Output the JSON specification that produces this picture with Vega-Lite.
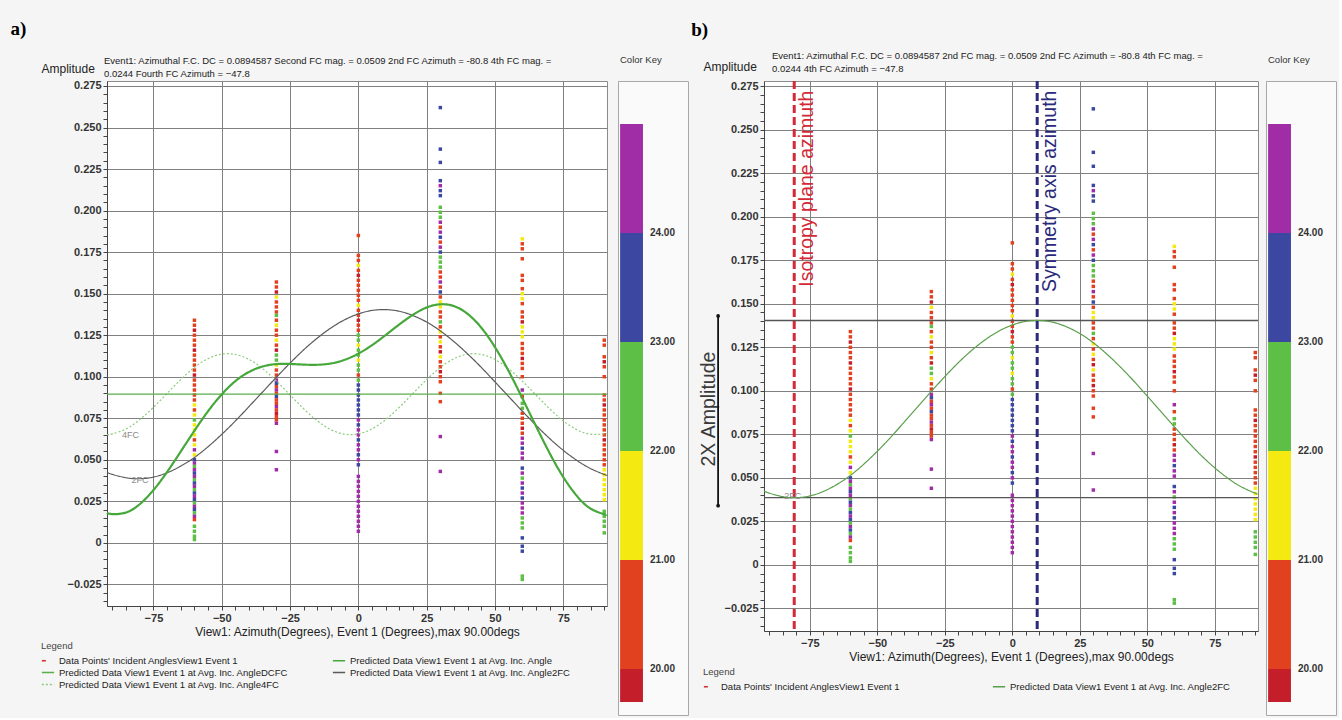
{
"$schema": "https://vega.github.io/schema/vega-lite/v6.json",
"background": "#f5f5f5",
"padding": {"left": 10, "top": 20, "right": 2, "bottom": 2},
"config": {
  "font": "Liberation Sans",
  "view": {"stroke": "#8c8c8c", "fill": "#ffffff"},
  "axis": {"gridColor": "#808080", "gridWidth": 1, "domainColor": "#444", "tickColor": "#444", "tickSize": 4, "tickCount": 100, "labelFont": "Liberation Sans", "labelFontWeight": "bold", "labelFontSize": 11, "labelColor": "#333", "titleFont": "Liberation Sans", "titleFontWeight": "normal", "titleFontSize": 12, "titleColor": "#222", "labelOverlap": false, "labelBound": false, "labelFlush": false},
  "legend": {"labelFont": "Liberation Sans", "labelFontSize": 9.5, "labelColor": "#222", "titleFont": "Liberation Sans", "titleFontSize": 9.5, "titleFontWeight": "normal", "titleColor": "#444", "symbolType": "stroke", "symbolSize": 150, "symbolStrokeWidth": 1.6, "rowPadding": 0, "labelLimit": 400, "titlePadding": 3, "direction": "horizontal"},
  "title": {"font": "Liberation Sans"}
},
"resolve": {"scale": {"stroke": "independent", "strokeDash": "independent", "color": "independent"}, "legend": {"stroke": "independent", "strokeDash": "independent"}},
"datasets": {
  "pts": [
{"x":-60,"a":0.134,"g":20.5},{"x":-60,"a":0.131,"g":20.5},{"x":-60,"a":0.128,"g":19.8},{"x":-60,"a":0.125,"g":20.5},{"x":-60,"a":0.122,"g":20.5},{"x":-60,"a":0.119,"g":20.5},{"x":-60,"a":0.116,"g":19.8},{"x":-60,"a":0.113,"g":20.5},{"x":-60,"a":0.110,"g":20.5},{"x":-60,"a":0.107,"g":20.5},{"x":-60,"a":0.104,"g":20.5},{"x":-60,"a":0.101,"g":19.8},{"x":-60,"a":0.098,"g":20.5},{"x":-60,"a":0.095,"g":20.5},{"x":-60,"a":0.092,"g":20.5},{"x":-60,"a":0.089,"g":20.5},{"x":-60,"a":0.086,"g":20.5},{"x":-60,"a":0.083,"g":21.5},{"x":-60,"a":0.080,"g":20.5},{"x":-60,"a":0.077,"g":21.5},{"x":-60,"a":0.074,"g":22.5},{"x":-60,"a":0.071,"g":21.5},{"x":-60,"a":0.068,"g":21.5},{"x":-60,"a":0.065,"g":21.5},{"x":-60,"a":0.062,"g":20.5},{"x":-60,"a":0.059,"g":21.5},{"x":-60,"a":0.056,"g":24.5},{"x":-60,"a":0.053,"g":21.5},{"x":-60,"a":0.050,"g":23.5},{"x":-60,"a":0.048,"g":24.5},{"x":-60,"a":0.046,"g":22.5},{"x":-60,"a":0.044,"g":24.5},{"x":-60,"a":0.042,"g":23.5},{"x":-60,"a":0.040,"g":24.5},{"x":-60,"a":0.038,"g":22.5},{"x":-60,"a":0.036,"g":23.5},{"x":-60,"a":0.034,"g":24.5},{"x":-60,"a":0.032,"g":22.5},{"x":-60,"a":0.030,"g":23.5},{"x":-60,"a":0.028,"g":24.5},{"x":-60,"a":0.026,"g":23.5},{"x":-60,"a":0.024,"g":22.5},{"x":-60,"a":0.022,"g":24.5},{"x":-60,"a":0.020,"g":23.5},{"x":-60,"a":0.018,"g":22.5},{"x":-60,"a":0.016,"g":24.5},{"x":-60,"a":0.014,"g":20.5},{"x":-60,"a":0.010,"g":22.5},{"x":-60,"a":0.007,"g":22.5},{"x":-60,"a":0.004,"g":22.5},{"x":-60,"a":0.002,"g":22.5},
{"x":-30,"a":0.157,"g":20.5},{"x":-30,"a":0.154,"g":20.5},{"x":-30,"a":0.151,"g":19.8},{"x":-30,"a":0.148,"g":21.5},{"x":-30,"a":0.145,"g":20.5},{"x":-30,"a":0.142,"g":20.5},{"x":-30,"a":0.139,"g":20.5},{"x":-30,"a":0.137,"g":22.5},{"x":-30,"a":0.134,"g":20.5},{"x":-30,"a":0.131,"g":21.5},{"x":-30,"a":0.128,"g":20.5},{"x":-30,"a":0.125,"g":20.5},{"x":-30,"a":0.122,"g":21.5},{"x":-30,"a":0.119,"g":20.5},{"x":-30,"a":0.116,"g":19.8},{"x":-30,"a":0.113,"g":22.5},{"x":-30,"a":0.110,"g":22.5},{"x":-30,"a":0.107,"g":21.5},{"x":-30,"a":0.104,"g":20.5},{"x":-30,"a":0.101,"g":20.5},{"x":-30,"a":0.098,"g":24.5},{"x":-30,"a":0.096,"g":23.5},{"x":-30,"a":0.094,"g":20.5},{"x":-30,"a":0.092,"g":24.5},{"x":-30,"a":0.090,"g":20.5},{"x":-30,"a":0.088,"g":23.5},{"x":-30,"a":0.086,"g":20.5},{"x":-30,"a":0.084,"g":20.5},{"x":-30,"a":0.082,"g":24.5},{"x":-30,"a":0.080,"g":20.5},{"x":-30,"a":0.078,"g":19.8},{"x":-30,"a":0.076,"g":20.5},{"x":-30,"a":0.074,"g":20.5},{"x":-30,"a":0.072,"g":24.5},{"x":-30,"a":0.055,"g":24.5},{"x":-30,"a":0.044,"g":24.5},
{"x":0,"a":0.185,"g":20.5},{"x":0,"a":0.173,"g":20.5},{"x":0,"a":0.170,"g":20.5},{"x":0,"a":0.167,"g":21.5},{"x":0,"a":0.164,"g":20.5},{"x":0,"a":0.161,"g":19.8},{"x":0,"a":0.158,"g":20.5},{"x":0,"a":0.155,"g":20.5},{"x":0,"a":0.152,"g":20.5},{"x":0,"a":0.149,"g":20.5},{"x":0,"a":0.146,"g":20.5},{"x":0,"a":0.143,"g":21.5},{"x":0,"a":0.140,"g":20.5},{"x":0,"a":0.137,"g":20.5},{"x":0,"a":0.134,"g":19.8},{"x":0,"a":0.131,"g":20.5},{"x":0,"a":0.128,"g":20.5},{"x":0,"a":0.125,"g":22.5},{"x":0,"a":0.122,"g":22.5},{"x":0,"a":0.119,"g":21.5},{"x":0,"a":0.116,"g":22.5},{"x":0,"a":0.113,"g":22.5},{"x":0,"a":0.110,"g":21.5},{"x":0,"a":0.107,"g":22.5},{"x":0,"a":0.104,"g":22.5},{"x":0,"a":0.101,"g":20.5},{"x":0,"a":0.098,"g":22.5},{"x":0,"a":0.095,"g":23.5},{"x":0,"a":0.092,"g":23.5},{"x":0,"a":0.089,"g":23.5},{"x":0,"a":0.086,"g":23.5},{"x":0,"a":0.083,"g":23.5},{"x":0,"a":0.080,"g":23.5},{"x":0,"a":0.077,"g":23.5},{"x":0,"a":0.074,"g":24.5},{"x":0,"a":0.071,"g":23.5},{"x":0,"a":0.068,"g":24.5},{"x":0,"a":0.065,"g":24.5},{"x":0,"a":0.062,"g":23.5},{"x":0,"a":0.059,"g":24.5},{"x":0,"a":0.056,"g":24.5},{"x":0,"a":0.053,"g":23.5},{"x":0,"a":0.050,"g":24.5},{"x":0,"a":0.047,"g":23.5},{"x":0,"a":0.040,"g":24.5},{"x":0,"a":0.037,"g":24.5},{"x":0,"a":0.034,"g":24.5},{"x":0,"a":0.031,"g":24.5},{"x":0,"a":0.028,"g":24.5},{"x":0,"a":0.025,"g":24.5},{"x":0,"a":0.022,"g":24.5},{"x":0,"a":0.019,"g":24.5},{"x":0,"a":0.016,"g":24.5},{"x":0,"a":0.013,"g":24.5},{"x":0,"a":0.010,"g":24.5},{"x":0,"a":0.007,"g":24.5},
{"x":30,"a":0.262,"g":23.5},{"x":30,"a":0.237,"g":23.5},{"x":30,"a":0.229,"g":23.5},{"x":30,"a":0.218,"g":23.5},{"x":30,"a":0.215,"g":24.5},{"x":30,"a":0.212,"g":23.5},{"x":30,"a":0.209,"g":23.5},{"x":30,"a":0.202,"g":22.5},{"x":30,"a":0.199,"g":22.5},{"x":30,"a":0.196,"g":22.5},{"x":30,"a":0.193,"g":24.5},{"x":30,"a":0.190,"g":20.5},{"x":30,"a":0.187,"g":24.5},{"x":30,"a":0.184,"g":23.5},{"x":30,"a":0.181,"g":20.5},{"x":30,"a":0.178,"g":24.5},{"x":30,"a":0.175,"g":23.5},{"x":30,"a":0.172,"g":22.5},{"x":30,"a":0.169,"g":22.5},{"x":30,"a":0.166,"g":22.5},{"x":30,"a":0.163,"g":20.5},{"x":30,"a":0.160,"g":20.5},{"x":30,"a":0.157,"g":24.5},{"x":30,"a":0.154,"g":20.5},{"x":30,"a":0.151,"g":23.5},{"x":30,"a":0.148,"g":20.5},{"x":30,"a":0.145,"g":21.5},{"x":30,"a":0.142,"g":21.5},{"x":30,"a":0.139,"g":20.5},{"x":30,"a":0.136,"g":20.5},{"x":30,"a":0.133,"g":22.5},{"x":30,"a":0.130,"g":20.5},{"x":30,"a":0.127,"g":21.5},{"x":30,"a":0.124,"g":20.5},{"x":30,"a":0.121,"g":21.5},{"x":30,"a":0.118,"g":20.5},{"x":30,"a":0.115,"g":19.8},{"x":30,"a":0.112,"g":21.5},{"x":30,"a":0.109,"g":20.5},{"x":30,"a":0.106,"g":20.5},{"x":30,"a":0.103,"g":19.8},{"x":30,"a":0.100,"g":20.5},{"x":30,"a":0.097,"g":20.5},{"x":30,"a":0.090,"g":20.5},{"x":30,"a":0.085,"g":20.5},{"x":30,"a":0.064,"g":24.5},{"x":30,"a":0.043,"g":24.5},
{"x":60,"a":0.183,"g":21.5},{"x":60,"a":0.180,"g":20.5},{"x":60,"a":0.177,"g":20.5},{"x":60,"a":0.171,"g":20.5},{"x":60,"a":0.161,"g":20.5},{"x":60,"a":0.158,"g":20.5},{"x":60,"a":0.153,"g":20.5},{"x":60,"a":0.150,"g":21.5},{"x":60,"a":0.147,"g":21.5},{"x":60,"a":0.144,"g":20.5},{"x":60,"a":0.139,"g":20.5},{"x":60,"a":0.136,"g":20.5},{"x":60,"a":0.133,"g":19.8},{"x":60,"a":0.130,"g":21.5},{"x":60,"a":0.127,"g":21.5},{"x":60,"a":0.124,"g":21.5},{"x":60,"a":0.120,"g":20.5},{"x":60,"a":0.117,"g":20.5},{"x":60,"a":0.114,"g":20.5},{"x":60,"a":0.111,"g":19.8},{"x":60,"a":0.108,"g":20.5},{"x":60,"a":0.105,"g":20.5},{"x":60,"a":0.100,"g":20.5},{"x":60,"a":0.092,"g":24.5},{"x":60,"a":0.088,"g":20.5},{"x":60,"a":0.084,"g":22.5},{"x":60,"a":0.081,"g":22.5},{"x":60,"a":0.078,"g":20.5},{"x":60,"a":0.075,"g":20.5},{"x":60,"a":0.072,"g":20.5},{"x":60,"a":0.069,"g":19.8},{"x":60,"a":0.066,"g":20.5},{"x":60,"a":0.063,"g":24.5},{"x":60,"a":0.060,"g":24.5},{"x":60,"a":0.057,"g":23.5},{"x":60,"a":0.054,"g":24.5},{"x":60,"a":0.051,"g":24.5},{"x":60,"a":0.045,"g":23.5},{"x":60,"a":0.042,"g":24.5},{"x":60,"a":0.039,"g":22.5},{"x":60,"a":0.036,"g":24.5},{"x":60,"a":0.033,"g":23.5},{"x":60,"a":0.030,"g":24.5},{"x":60,"a":0.027,"g":23.5},{"x":60,"a":0.024,"g":24.5},{"x":60,"a":0.021,"g":24.5},{"x":60,"a":0.018,"g":24.5},{"x":60,"a":0.015,"g":22.5},{"x":60,"a":0.012,"g":22.5},{"x":60,"a":0.009,"g":22.5},{"x":60,"a":0.003,"g":23.5},{"x":60,"a":-0.002,"g":23.5},{"x":60,"a":-0.005,"g":23.5},{"x":60,"a":-0.020,"g":22.5},{"x":60,"a":-0.022,"g":22.5},
{"x":90,"a":0.122,"g":20.5},{"x":90,"a":0.119,"g":20.5},{"x":90,"a":0.112,"g":20.5},{"x":90,"a":0.109,"g":19.8},{"x":90,"a":0.106,"g":20.5},{"x":90,"a":0.100,"g":20.5},{"x":90,"a":0.089,"g":20.5},{"x":90,"a":0.086,"g":20.5},{"x":90,"a":0.083,"g":19.8},{"x":90,"a":0.080,"g":20.5},{"x":90,"a":0.077,"g":20.5},{"x":90,"a":0.074,"g":20.5},{"x":90,"a":0.071,"g":20.5},{"x":90,"a":0.068,"g":20.5},{"x":90,"a":0.065,"g":20.5},{"x":90,"a":0.062,"g":19.8},{"x":90,"a":0.059,"g":20.5},{"x":90,"a":0.056,"g":20.5},{"x":90,"a":0.053,"g":20.5},{"x":90,"a":0.050,"g":20.5},{"x":90,"a":0.047,"g":20.5},{"x":90,"a":0.044,"g":21.5},{"x":90,"a":0.041,"g":21.5},{"x":90,"a":0.038,"g":21.5},{"x":90,"a":0.035,"g":21.5},{"x":90,"a":0.032,"g":21.5},{"x":90,"a":0.029,"g":21.5},{"x":90,"a":0.026,"g":21.5},{"x":90,"a":0.019,"g":22.5},{"x":90,"a":0.016,"g":22.5},{"x":90,"a":0.013,"g":22.5},{"x":90,"a":0.010,"g":22.5},{"x":90,"a":0.006,"g":22.5}
  ],
  "full": [
{"x":-92,"a":0.0181,"s":"Predicted Data View1 Event 1 at Avg. Inc. Angle"},{"x":-90,"a":0.0173,"s":"Predicted Data View1 Event 1 at Avg. Inc. Angle"},{"x":-85,"a":0.0183,"s":"Predicted Data View1 Event 1 at Avg. Inc. Angle"},{"x":-80,"a":0.0233,"s":"Predicted Data View1 Event 1 at Avg. Inc. Angle"},{"x":-75,"a":0.0318,"s":"Predicted Data View1 Event 1 at Avg. Inc. Angle"},{"x":-70,"a":0.0427,"s":"Predicted Data View1 Event 1 at Avg. Inc. Angle"},{"x":-65,"a":0.0550,"s":"Predicted Data View1 Event 1 at Avg. Inc. Angle"},{"x":-60,"a":0.0675,"s":"Predicted Data View1 Event 1 at Avg. Inc. Angle"},{"x":-55,"a":0.0793,"s":"Predicted Data View1 Event 1 at Avg. Inc. Angle"},{"x":-50,"a":0.0894,"s":"Predicted Data View1 Event 1 at Avg. Inc. Angle"},{"x":-45,"a":0.0974,"s":"Predicted Data View1 Event 1 at Avg. Inc. Angle"},{"x":-40,"a":0.1029,"s":"Predicted Data View1 Event 1 at Avg. Inc. Angle"},{"x":-35,"a":0.1062,"s":"Predicted Data View1 Event 1 at Avg. Inc. Angle"},{"x":-30,"a":0.1076,"s":"Predicted Data View1 Event 1 at Avg. Inc. Angle"},{"x":-25,"a":0.1077,"s":"Predicted Data View1 Event 1 at Avg. Inc. Angle"},{"x":-20,"a":0.1073,"s":"Predicted Data View1 Event 1 at Avg. Inc. Angle"},{"x":-15,"a":0.1072,"s":"Predicted Data View1 Event 1 at Avg. Inc. Angle"},{"x":-10,"a":0.1080,"s":"Predicted Data View1 Event 1 at Avg. Inc. Angle"},{"x":-5,"a":0.1102,"s":"Predicted Data View1 Event 1 at Avg. Inc. Angle"},{"x":0,"a":0.1139,"s":"Predicted Data View1 Event 1 at Avg. Inc. Angle"},{"x":5,"a":0.1190,"s":"Predicted Data View1 Event 1 at Avg. Inc. Angle"},{"x":10,"a":0.1251,"s":"Predicted Data View1 Event 1 at Avg. Inc. Angle"},{"x":15,"a":0.1315,"s":"Predicted Data View1 Event 1 at Avg. Inc. Angle"},{"x":20,"a":0.1373,"s":"Predicted Data View1 Event 1 at Avg. Inc. Angle"},{"x":25,"a":0.1417,"s":"Predicted Data View1 Event 1 at Avg. Inc. Angle"},{"x":30,"a":0.1436,"s":"Predicted Data View1 Event 1 at Avg. Inc. Angle"},{"x":35,"a":0.1425,"s":"Predicted Data View1 Event 1 at Avg. Inc. Angle"},{"x":40,"a":0.1378,"s":"Predicted Data View1 Event 1 at Avg. Inc. Angle"},{"x":45,"a":0.1295,"s":"Predicted Data View1 Event 1 at Avg. Inc. Angle"},{"x":50,"a":0.1178,"s":"Predicted Data View1 Event 1 at Avg. Inc. Angle"},{"x":55,"a":0.1034,"s":"Predicted Data View1 Event 1 at Avg. Inc. Angle"},{"x":60,"a":0.0871,"s":"Predicted Data View1 Event 1 at Avg. Inc. Angle"},{"x":65,"a":0.0703,"s":"Predicted Data View1 Event 1 at Avg. Inc. Angle"},{"x":70,"a":0.0540,"s":"Predicted Data View1 Event 1 at Avg. Inc. Angle"},{"x":75,"a":0.0396,"s":"Predicted Data View1 Event 1 at Avg. Inc. Angle"},{"x":80,"a":0.0282,"s":"Predicted Data View1 Event 1 at Avg. Inc. Angle"},{"x":85,"a":0.0206,"s":"Predicted Data View1 Event 1 at Avg. Inc. Angle"},{"x":90,"a":0.0173,"s":"Predicted Data View1 Event 1 at Avg. Inc. Angle"},{"x":91,"a":0.0171,"s":"Predicted Data View1 Event 1 at Avg. Inc. Angle"}
  ],
  "dc": [
{"x":-92,"a":0.0895,"s":"Predicted Data View1 Event 1 at Avg. Inc. AngleDCFC"},{"x":91,"a":0.0895,"s":"Predicted Data View1 Event 1 at Avg. Inc. AngleDCFC"}
  ],
  "f2": [
{"x":-92,"a":0.0424,"s":"Predicted Data View1 Event 1 at Avg. Inc. Angle2FC"},{"x":-90,"a":0.0412,"s":"Predicted Data View1 Event 1 at Avg. Inc. Angle2FC"},{"x":-85,"a":0.0392,"s":"Predicted Data View1 Event 1 at Avg. Inc. Angle2FC"},{"x":-80,"a":0.0386,"s":"Predicted Data View1 Event 1 at Avg. Inc. Angle2FC"},{"x":-75,"a":0.0396,"s":"Predicted Data View1 Event 1 at Avg. Inc. Angle2FC"},{"x":-70,"a":0.0422,"s":"Predicted Data View1 Event 1 at Avg. Inc. Angle2FC"},{"x":-65,"a":0.0462,"s":"Predicted Data View1 Event 1 at Avg. Inc. Angle2FC"},{"x":-60,"a":0.0514,"s":"Predicted Data View1 Event 1 at Avg. Inc. Angle2FC"},{"x":-55,"a":0.0579,"s":"Predicted Data View1 Event 1 at Avg. Inc. Angle2FC"},{"x":-50,"a":0.0653,"s":"Predicted Data View1 Event 1 at Avg. Inc. Angle2FC"},{"x":-45,"a":0.0734,"s":"Predicted Data View1 Event 1 at Avg. Inc. Angle2FC"},{"x":-40,"a":0.0821,"s":"Predicted Data View1 Event 1 at Avg. Inc. Angle2FC"},{"x":-35,"a":0.0909,"s":"Predicted Data View1 Event 1 at Avg. Inc. Angle2FC"},{"x":-30,"a":0.0997,"s":"Predicted Data View1 Event 1 at Avg. Inc. Angle2FC"},{"x":-25,"a":0.1082,"s":"Predicted Data View1 Event 1 at Avg. Inc. Angle2FC"},{"x":-20,"a":0.1162,"s":"Predicted Data View1 Event 1 at Avg. Inc. Angle2FC"},{"x":-15,"a":0.1233,"s":"Predicted Data View1 Event 1 at Avg. Inc. Angle2FC"},{"x":-10,"a":0.1294,"s":"Predicted Data View1 Event 1 at Avg. Inc. Angle2FC"},{"x":-5,"a":0.1343,"s":"Predicted Data View1 Event 1 at Avg. Inc. Angle2FC"},{"x":0,"a":0.1378,"s":"Predicted Data View1 Event 1 at Avg. Inc. Angle2FC"},{"x":5,"a":0.1399,"s":"Predicted Data View1 Event 1 at Avg. Inc. Angle2FC"},{"x":10,"a":0.1404,"s":"Predicted Data View1 Event 1 at Avg. Inc. Angle2FC"},{"x":15,"a":0.1394,"s":"Predicted Data View1 Event 1 at Avg. Inc. Angle2FC"},{"x":20,"a":0.1368,"s":"Predicted Data View1 Event 1 at Avg. Inc. Angle2FC"},{"x":25,"a":0.1329,"s":"Predicted Data View1 Event 1 at Avg. Inc. Angle2FC"},{"x":30,"a":0.1276,"s":"Predicted Data View1 Event 1 at Avg. Inc. Angle2FC"},{"x":35,"a":0.1211,"s":"Predicted Data View1 Event 1 at Avg. Inc. Angle2FC"},{"x":40,"a":0.1137,"s":"Predicted Data View1 Event 1 at Avg. Inc. Angle2FC"},{"x":45,"a":0.1056,"s":"Predicted Data View1 Event 1 at Avg. Inc. Angle2FC"},{"x":50,"a":0.0969,"s":"Predicted Data View1 Event 1 at Avg. Inc. Angle2FC"},{"x":55,"a":0.0881,"s":"Predicted Data View1 Event 1 at Avg. Inc. Angle2FC"},{"x":60,"a":0.0793,"s":"Predicted Data View1 Event 1 at Avg. Inc. Angle2FC"},{"x":65,"a":0.0708,"s":"Predicted Data View1 Event 1 at Avg. Inc. Angle2FC"},{"x":70,"a":0.0628,"s":"Predicted Data View1 Event 1 at Avg. Inc. Angle2FC"},{"x":75,"a":0.0557,"s":"Predicted Data View1 Event 1 at Avg. Inc. Angle2FC"},{"x":80,"a":0.0496,"s":"Predicted Data View1 Event 1 at Avg. Inc. Angle2FC"},{"x":85,"a":0.0447,"s":"Predicted Data View1 Event 1 at Avg. Inc. Angle2FC"},{"x":90,"a":0.0412,"s":"Predicted Data View1 Event 1 at Avg. Inc. Angle2FC"},{"x":91,"a":0.0407,"s":"Predicted Data View1 Event 1 at Avg. Inc. Angle2FC"}
  ],
  "f4": [
{"x":-92,"a":0.0651,"s":"Predicted Data View1 Event 1 at Avg. Inc. Angle4FC"},{"x":-90,"a":0.0656,"s":"Predicted Data View1 Event 1 at Avg. Inc. Angle4FC"},{"x":-85,"a":0.0686,"s":"Predicted Data View1 Event 1 at Avg. Inc. Angle4FC"},{"x":-80,"a":0.0742,"s":"Predicted Data View1 Event 1 at Avg. Inc. Angle4FC"},{"x":-75,"a":0.0816,"s":"Predicted Data View1 Event 1 at Avg. Inc. Angle4FC"},{"x":-70,"a":0.0900,"s":"Predicted Data View1 Event 1 at Avg. Inc. Angle4FC"},{"x":-65,"a":0.0983,"s":"Predicted Data View1 Event 1 at Avg. Inc. Angle4FC"},{"x":-60,"a":0.1056,"s":"Predicted Data View1 Event 1 at Avg. Inc. Angle4FC"},{"x":-55,"a":0.1109,"s":"Predicted Data View1 Event 1 at Avg. Inc. Angle4FC"},{"x":-50,"a":0.1136,"s":"Predicted Data View1 Event 1 at Avg. Inc. Angle4FC"},{"x":-45,"a":0.1134,"s":"Predicted Data View1 Event 1 at Avg. Inc. Angle4FC"},{"x":-40,"a":0.1104,"s":"Predicted Data View1 Event 1 at Avg. Inc. Angle4FC"},{"x":-35,"a":0.1048,"s":"Predicted Data View1 Event 1 at Avg. Inc. Angle4FC"},{"x":-30,"a":0.0974,"s":"Predicted Data View1 Event 1 at Avg. Inc. Angle4FC"},{"x":-25,"a":0.0890,"s":"Predicted Data View1 Event 1 at Avg. Inc. Angle4FC"},{"x":-20,"a":0.0807,"s":"Predicted Data View1 Event 1 at Avg. Inc. Angle4FC"},{"x":-15,"a":0.0734,"s":"Predicted Data View1 Event 1 at Avg. Inc. Angle4FC"},{"x":-10,"a":0.0681,"s":"Predicted Data View1 Event 1 at Avg. Inc. Angle4FC"},{"x":-5,"a":0.0654,"s":"Predicted Data View1 Event 1 at Avg. Inc. Angle4FC"},{"x":0,"a":0.0656,"s":"Predicted Data View1 Event 1 at Avg. Inc. Angle4FC"},{"x":5,"a":0.0686,"s":"Predicted Data View1 Event 1 at Avg. Inc. Angle4FC"},{"x":10,"a":0.0742,"s":"Predicted Data View1 Event 1 at Avg. Inc. Angle4FC"},{"x":15,"a":0.0816,"s":"Predicted Data View1 Event 1 at Avg. Inc. Angle4FC"},{"x":20,"a":0.0900,"s":"Predicted Data View1 Event 1 at Avg. Inc. Angle4FC"},{"x":25,"a":0.0983,"s":"Predicted Data View1 Event 1 at Avg. Inc. Angle4FC"},{"x":30,"a":0.1056,"s":"Predicted Data View1 Event 1 at Avg. Inc. Angle4FC"},{"x":35,"a":0.1109,"s":"Predicted Data View1 Event 1 at Avg. Inc. Angle4FC"},{"x":40,"a":0.1136,"s":"Predicted Data View1 Event 1 at Avg. Inc. Angle4FC"},{"x":45,"a":0.1134,"s":"Predicted Data View1 Event 1 at Avg. Inc. Angle4FC"},{"x":50,"a":0.1104,"s":"Predicted Data View1 Event 1 at Avg. Inc. Angle4FC"},{"x":55,"a":0.1048,"s":"Predicted Data View1 Event 1 at Avg. Inc. Angle4FC"},{"x":60,"a":0.0974,"s":"Predicted Data View1 Event 1 at Avg. Inc. Angle4FC"},{"x":65,"a":0.0890,"s":"Predicted Data View1 Event 1 at Avg. Inc. Angle4FC"},{"x":70,"a":0.0807,"s":"Predicted Data View1 Event 1 at Avg. Inc. Angle4FC"},{"x":75,"a":0.0734,"s":"Predicted Data View1 Event 1 at Avg. Inc. Angle4FC"},{"x":80,"a":0.0681,"s":"Predicted Data View1 Event 1 at Avg. Inc. Angle4FC"},{"x":85,"a":0.0654,"s":"Predicted Data View1 Event 1 at Avg. Inc. Angle4FC"},{"x":90,"a":0.0656,"s":"Predicted Data View1 Event 1 at Avg. Inc. Angle4FC"},{"x":91,"a":0.0660,"s":"Predicted Data View1 Event 1 at Avg. Inc. Angle4FC"}
  ],
  "key": [{"lo":19.697,"hi":20,"g":19.8},{"lo":20,"hi":21,"g":20.5},{"lo":21,"hi":22,"g":21.5},{"lo":22,"hi":23,"g":22.5},{"lo":23,"hi":24,"g":23.5},{"lo":24,"hi":25,"g":24.5}],
  "keylab": [{"v":20},{"v":21},{"v":22},{"v":23},{"v":24}],
  "labA": [{"t":"4FC","x":-86.5,"a":0.065},{"t":"2FC","x":-83,"a":0.038}],
  "labB": [{"t":"2FC","x":-84.5,"a":0.0397}],
  "azl": [{"t":"Isotropy plane azimuth","az":-80.8},{"t":"Symmetry axis azimuth","az":9.2}],
  "hl": [{"a":0.1404},{"a":0.0386}]
},
"spacing": 2,
"hconcat": [
 {
  "title": {"text": "a)", "font": "Liberation Serif", "fontSize": 19, "fontWeight": "bold", "color": "#000", "anchor": "start", "frame": "bounds", "dx": -30, "offset": 15},
  "spacing": 5,
  "hconcat": [
   {
    "width": 500, "height": 525,
    "title": {"text": ["Event1: Azimuthal F.C. DC = 0.0894587 Second FC mag. = 0.0509 2nd FC Azimuth = -80.8 4th FC mag. =", "0.0244 Fourth FC Azimuth = −47.8"], "anchor": "start", "frame": "group", "fontSize": 9.5, "fontWeight": "normal", "color": "#222", "offset": -16, "dx": -3, "lineHeight": 13},
    "layer": [
     {"data": {"name": "pts"}, "mark": {"type": "square", "size": 12, "opacity": 1},
      "encoding": {
       "x": {"field": "x", "type": "quantitative", "scale": {"domain": [-92, 91], "nice": false, "zero": false},
             "axis": {"values": [-90,-85,-80,-75,-70,-65,-60,-55,-50,-45,-40,-35,-30,-25,-20,-15,-10,-5,0,5,10,15,20,25,30,35,40,45,50,55,60,65,70,75,80,85,90],
                      "tickCount": 100,
                      "title": "View1: Azimuth(Degrees), Event 1 (Degrees),max 90.00degs",
                      "labelExpr": "datum.value % 25 === 0 ? format(datum.value, 'd') : ''",
                      "gridOpacity": {"condition": {"test": "datum.value % 25 === 0", "value": 1}, "value": 0},
                      "labelPadding": 2, "titlePadding": 3}},
       "y": {"field": "a", "type": "quantitative", "scale": {"domain": [-0.038, 0.278], "nice": false, "zero": false},
             "axis": {"values": [-0.035,-0.03,-0.025,-0.02,-0.015,-0.01,-0.005,0,0.005,0.01,0.015,0.02,0.025,0.03,0.035,0.04,0.045,0.05,0.055,0.06,0.065,0.07,0.075,0.08,0.085,0.09,0.095,0.1,0.105,0.11,0.115,0.12,0.125,0.13,0.135,0.14,0.145,0.15,0.155,0.16,0.165,0.17,0.175,0.18,0.185,0.19,0.195,0.2,0.205,0.21,0.215,0.22,0.225,0.23,0.235,0.24,0.245,0.25,0.255,0.26,0.265,0.27,0.275],
                      "tickCount": 100,
                      "title": "Amplitude", "titleAngle": 0, "titleAlign": "left", "titleBaseline": "middle", "titleX": -66, "titleY": -13,
                      "labelExpr": "abs(round(datum.value*1000)) % 25 === 0 ? (datum.value === 0 ? '0' : format(datum.value, '.3f')) : ''",
                      "gridOpacity": {"condition": {"test": "abs(round(datum.value*1000)) % 25 === 0", "value": 1}, "value": 0},
                      "labelPadding": 2}},
       "fill": {"field": "g", "type": "quantitative", "scale": {"type": "threshold", "domain": [20,21,22,23,24], "range": ["#c41e2a","#e2411f","#f4ea12","#5dbf45","#3b47a0","#a02ca6"]}, "legend": null}
      }},
     {"data": {"name": "f4"}, "mark": {"type": "line", "strokeWidth": 1.2, "interpolate": "natural"},
      "encoding": {"x": {"field": "x", "type": "quantitative"}, "y": {"field": "a", "type": "quantitative"},
       "stroke": {"field": "s", "type": "nominal", "scale": {"domain": ["Data Points' Incident AnglesView1 Event 1", "Predicted Data View1 Event 1 at Avg. Inc. Angle", "Predicted Data View1 Event 1 at Avg. Inc. AngleDCFC", "Predicted Data View1 Event 1 at Avg. Inc. Angle2FC", "Predicted Data View1 Event 1 at Avg. Inc. Angle4FC"], "range": ["#d43030", "#46a83a", "#5aae4a", "#5a5a5a", "#8ccc7c"]},
        "legend": {"title": "Legend", "orient": "none", "legendX": -66, "legendY": 560, "columns": 2, "gridAlign": "all", "columnPadding": 40, "direction": "horizontal"}},
       "strokeDash": {"field": "s", "type": "nominal", "scale": {"domain": ["Data Points' Incident AnglesView1 Event 1", "Predicted Data View1 Event 1 at Avg. Inc. Angle", "Predicted Data View1 Event 1 at Avg. Inc. AngleDCFC", "Predicted Data View1 Event 1 at Avg. Inc. Angle2FC", "Predicted Data View1 Event 1 at Avg. Inc. Angle4FC"], "range": [[4,40],[1,0],[1,0],[1,0],[2,2]]},
        "legend": {"title": "Legend", "orient": "none", "legendX": -66, "legendY": 560, "columns": 2, "gridAlign": "all", "columnPadding": 40, "direction": "horizontal"}}}},
     {"data": {"name": "dc"}, "mark": {"type": "line", "strokeWidth": 1.4},
      "encoding": {"x": {"field": "x", "type": "quantitative"}, "y": {"field": "a", "type": "quantitative"}, "stroke": {"field": "s", "type": "nominal"}, "strokeDash": {"field": "s", "type": "nominal"}}},
     {"data": {"name": "f2"}, "mark": {"type": "line", "strokeWidth": 1.2, "interpolate": "natural"},
      "encoding": {"x": {"field": "x", "type": "quantitative"}, "y": {"field": "a", "type": "quantitative"}, "stroke": {"field": "s", "type": "nominal"}, "strokeDash": {"field": "s", "type": "nominal"}}},
     {"data": {"name": "full"}, "mark": {"type": "line", "strokeWidth": 2.2, "interpolate": "natural"},
      "encoding": {"x": {"field": "x", "type": "quantitative"}, "y": {"field": "a", "type": "quantitative"}, "stroke": {"field": "s", "type": "nominal"}, "strokeDash": {"field": "s", "type": "nominal"}}},
     {"data": {"name": "labA"}, "mark": {"type": "text", "fontSize": 9, "color": "#8a8a8a", "align": "left", "baseline": "middle"},
      "encoding": {"x": {"field": "x", "type": "quantitative"}, "y": {"field": "a", "type": "quantitative"}, "text": {"field": "t"}}}
    ]
   },
   {
    "width": 70, "height": 634,
    "view": {"fill": "#fafafa", "stroke": "#a8a8a8"},
    "title": {"text": "Color Key", "anchor": "start", "frame": "group", "fontSize": 9.5, "fontWeight": "normal", "color": "#333", "offset": 17, "dx": 2},
    "layer": [
     {"data": {"name": "key"}, "mark": "rect",
      "encoding": {"x": {"datum": 0.09, "type": "quantitative", "scale": {"domain": [0, 3], "nice": false, "zero": false}, "axis": null}, "x2": {"datum": 1.07},
       "y": {"field": "lo", "type": "quantitative", "scale": {"domain": [19.578, 25.394], "nice": false, "zero": false}, "axis": null}, "y2": {"field": "hi"},
       "fill": {"field": "g", "type": "quantitative", "scale": {"type": "threshold", "domain": [20,21,22,23,24], "range": ["#c41e2a","#e2411f","#f4ea12","#5dbf45","#3b47a0","#a02ca6"]}, "legend": null}}},
     {"data": {"name": "keylab"}, "mark": {"type": "text", "align": "left", "baseline": "middle", "fontSize": 10, "fontWeight": "bold", "color": "#333"},
      "encoding": {"x": {"datum": 1.37, "type": "quantitative", "axis": null}, "y": {"field": "v", "type": "quantitative", "axis": null}, "text": {"field": "v", "type": "quantitative", "format": ".2f"}}}
    ]
   }
  ]
 },
 {
  "title": {"text": "b)", "font": "Liberation Serif", "fontSize": 19, "fontWeight": "bold", "color": "#000", "anchor": "start", "frame": "bounds", "dx": -7, "offset": 10},
  "spacing": 4,
  "hconcat": [
   {
    "width": 494, "height": 550,
    "title": {"text": ["Event1: Azimuthal F.C. DC = 0.0894587 2nd FC mag. = 0.0509 2nd FC Azimuth = -80.8 4th FC mag. =", "0.0244 4th FC Azimuth = −47.8"], "anchor": "start", "frame": "group", "fontSize": 9.5, "fontWeight": "normal", "color": "#222", "offset": -13, "dx": 8, "lineHeight": 13},
    "layer": [
     {"data": {"name": "pts"}, "mark": {"type": "square", "size": 12, "opacity": 1},
      "encoding": {
       "x": {"field": "x", "type": "quantitative", "scale": {"domain": [-92, 91], "nice": false, "zero": false},
             "axis": {"values": [-90,-85,-80,-75,-70,-65,-60,-55,-50,-45,-40,-35,-30,-25,-20,-15,-10,-5,0,5,10,15,20,25,30,35,40,45,50,55,60,65,70,75,80,85,90],
                      "tickCount": 100,
                      "title": "View1: Azimuth(Degrees), Event 1 (Degrees),max 90.00degs",
                      "labelExpr": "datum.value % 25 === 0 ? format(datum.value, 'd') : ''",
                      "gridOpacity": {"condition": {"test": "datum.value % 25 === 0", "value": 1}, "value": 0},
                      "labelPadding": 2, "titlePadding": 3}},
       "y": {"field": "a", "type": "quantitative", "scale": {"domain": [-0.038, 0.278], "nice": false, "zero": false},
             "axis": {"values": [-0.035,-0.03,-0.025,-0.02,-0.015,-0.01,-0.005,0,0.005,0.01,0.015,0.02,0.025,0.03,0.035,0.04,0.045,0.05,0.055,0.06,0.065,0.07,0.075,0.08,0.085,0.09,0.095,0.1,0.105,0.11,0.115,0.12,0.125,0.13,0.135,0.14,0.145,0.15,0.155,0.16,0.165,0.17,0.175,0.18,0.185,0.19,0.195,0.2,0.205,0.21,0.215,0.22,0.225,0.23,0.235,0.24,0.245,0.25,0.255,0.26,0.265,0.27,0.275],
                      "tickCount": 100,
                      "title": "Amplitude", "titleAngle": 0, "titleAlign": "left", "titleBaseline": "middle", "titleX": -61, "titleY": -15,
                      "labelExpr": "abs(round(datum.value*1000)) % 25 === 0 ? (datum.value === 0 ? '0' : format(datum.value, '.3f')) : ''",
                      "gridOpacity": {"condition": {"test": "abs(round(datum.value*1000)) % 25 === 0", "value": 1}, "value": 0},
                      "labelPadding": 2}},
       "fill": {"field": "g", "type": "quantitative", "scale": {"type": "threshold", "domain": [20,21,22,23,24], "range": ["#c41e2a","#e2411f","#f4ea12","#5dbf45","#3b47a0","#a02ca6"]}, "legend": null}
      }},
     {"data": {"name": "hl"}, "mark": {"type": "rule", "color": "#555555", "strokeWidth": 1.3},
      "encoding": {"y": {"field": "a", "type": "quantitative"}}},
     {"data": {"name": "f2"}, "mark": {"type": "line", "strokeWidth": 1.2, "interpolate": "natural"},
      "encoding": {"x": {"field": "x", "type": "quantitative"}, "y": {"field": "a", "type": "quantitative"},
       "stroke": {"field": "s", "type": "nominal", "scale": {"domain": ["Data Points' Incident AnglesView1 Event 1", "Predicted Data View1 Event 1 at Avg. Inc. Angle2FC"], "range": ["#d43030", "#5a9e4c"]},
        "legend": {"title": "Legend", "orient": "none", "legendX": -61, "legendY": 586, "columns": 2, "gridAlign": "all", "columnPadding": 47, "direction": "horizontal"}},
       "strokeDash": {"field": "s", "type": "nominal", "scale": {"domain": ["Data Points' Incident AnglesView1 Event 1", "Predicted Data View1 Event 1 at Avg. Inc. Angle2FC"], "range": [[4,40],[1,0]]},
        "legend": {"title": "Legend", "orient": "none", "legendX": -61, "legendY": 586, "columns": 2, "gridAlign": "all", "columnPadding": 47, "direction": "horizontal"}}}},
     {"data": {"name": "azl"}, "mark": {"type": "rule", "strokeWidth": 3, "strokeDash": [8, 4]},
      "encoding": {"x": {"field": "az", "type": "quantitative"},
       "color": {"field": "t", "type": "nominal", "scale": {"domain": ["Isotropy plane azimuth", "Symmetry axis azimuth"], "range": ["#d42a38", "#2a2a7c"]}, "legend": null}}},
     {"data": {"name": "azl"}, "mark": {"type": "text", "angle": 270, "align": "right", "baseline": "top", "fontSize": 19.5, "dy": 4},
      "encoding": {"x": {"field": "az", "type": "quantitative"}, "y": {"datum": 0.2725}, "text": {"field": "t"},
       "color": {"field": "t", "type": "nominal", "legend": null}}},
     {"data": {"values": [{"t": "2X Amplitude"}]}, "mark": {"type": "text", "angle": 270, "align": "center", "baseline": "middle", "fontSize": 19.5, "color": "#3a3a3a"},
      "encoding": {"x": {"datum": -112.5}, "y": {"datum": 0.0895}, "text": {"field": "t"}}},
     {"data": {"values": [{"t": "2X"}]}, "mark": {"type": "rule", "color": "#111111", "strokeWidth": 1.8},
      "encoding": {"x": {"datum": -109}, "y": {"datum": 0.143}, "y2": {"datum": 0.034}}},
     {"data": {"values": [{"a": 0.143}, {"a": 0.034}]}, "mark": {"type": "circle", "size": 14, "color": "#111111", "opacity": 1},
      "encoding": {"x": {"datum": -109}, "y": {"field": "a", "type": "quantitative"}}},
     {"data": {"name": "labB"}, "mark": {"type": "text", "fontSize": 9, "color": "#8a8a8a", "align": "left", "baseline": "middle"},
      "encoding": {"x": {"field": "x", "type": "quantitative"}, "y": {"field": "a", "type": "quantitative"}, "text": {"field": "t"}}}
    ]
   },
   {
    "width": 70, "height": 634,
    "view": {"fill": "#fafafa", "stroke": "#a8a8a8"},
    "title": {"text": "Color Key", "anchor": "start", "frame": "group", "fontSize": 9.5, "fontWeight": "normal", "color": "#333", "offset": 17, "dx": 2},
    "layer": [
     {"data": {"name": "key"}, "mark": "rect",
      "encoding": {"x": {"datum": 0.09, "type": "quantitative", "scale": {"domain": [0, 3], "nice": false, "zero": false}, "axis": null}, "x2": {"datum": 1.07},
       "y": {"field": "lo", "type": "quantitative", "scale": {"domain": [19.578, 25.394], "nice": false, "zero": false}, "axis": null}, "y2": {"field": "hi"},
       "fill": {"field": "g", "type": "quantitative", "scale": {"type": "threshold", "domain": [20,21,22,23,24], "range": ["#c41e2a","#e2411f","#f4ea12","#5dbf45","#3b47a0","#a02ca6"]}, "legend": null}}},
     {"data": {"name": "keylab"}, "mark": {"type": "text", "align": "left", "baseline": "middle", "fontSize": 10, "fontWeight": "bold", "color": "#333"},
      "encoding": {"x": {"datum": 1.37, "type": "quantitative", "axis": null}, "y": {"field": "v", "type": "quantitative", "axis": null}, "text": {"field": "v", "type": "quantitative", "format": ".2f"}}}
    ]
   }
  ]
 }
]
}
